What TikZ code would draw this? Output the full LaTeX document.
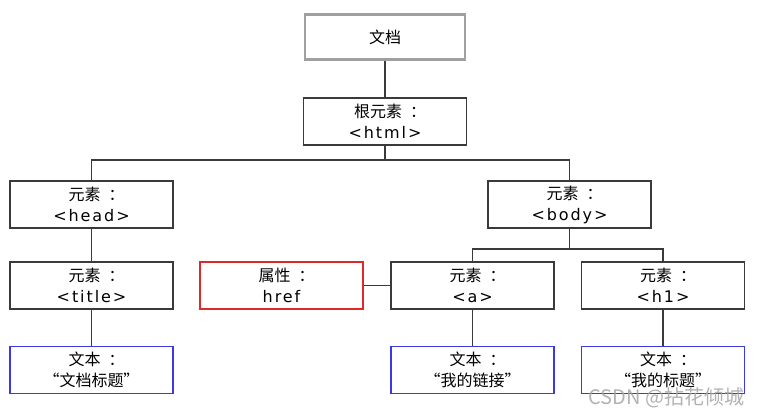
\documentclass[tikz,border=0pt]{standalone}
\usepackage{fontspec}
\setmainfont[LetterSpace=12]{DejaVu Sans}
\newfontfamily\cjk{Noto Sans CJK SC}
\newcommand\zc{\hspace{0.5em}\makebox[0.35em][l]{：}}
\definecolor{boxline}{HTML}{3A3A3A}
\definecolor{docline}{HTML}{A0A0A0}
\definecolor{attrred}{HTML}{E02828}
\definecolor{textblue}{HTML}{3A3AE0}
\begin{document}
\begin{tikzpicture}[x=1pt,y=-1pt,
  box/.style={draw=boxline, line width=1.6pt, minimum width=163pt, minimum height=47pt,
    inner sep=0pt, align=center, font=\fontsize{16}{21}\selectfont, fill=white},
  docbox/.style={box, draw=docline, line width=2.6pt, minimum width=160pt, minimum height=45pt},
  attrbox/.style={box, draw=attrred},
  textbox/.style={box, draw=textblue},
  link/.style={draw=boxline, line width=1.6pt}]
\useasboundingbox (0,0) rectangle (777,418);
\fill[white] (0,0) rectangle (777,418);
\node[docbox] (doc) at (385,37) {\cjk 文档};
\node[box] (root) at (385,121.5) {{\cjk 根元素\zc}\\<html>};
\node[box] (head) at (91.5,204.5) {{\cjk 元素\zc}\\<head>};
\node[box] (body) at (569.5,204.5) {{\cjk 元素\zc}\\<body>};
\node[box] (title) at (91.5,285.5) {{\cjk 元素\zc}\\<title>};
\node[attrbox] (href) at (281.5,285.5) {{\cjk 属性\zc}\\href};
\node[box] (a) at (472.5,285.5) {{\cjk 元素\zc}\\<a>};
\node[box] (h1) at (663,285.5) {{\cjk 元素\zc}\\<h1>};
\node[textbox] (t1) at (91.5,370) {{\cjk 文本\zc}\\{\cjk “文档标题”}};
\node[textbox] (t2) at (472.5,370) {{\cjk 文本\zc}\\{\cjk “我的链接”}};
\node[textbox] (t3) at (663,370) {{\cjk 文本\zc}\\{\cjk “我的标题”}};
\coordinate (j1) at (385,160);
\coordinate (j2) at (569.5,249);
\draw[link] (doc.south) -- (root.north);
\draw[link] (root.south) -- (j1);
\draw[link] (head.north) |- (j1) -| (body.north);
\draw[link] (body.south) -- (j2);
\draw[link] (a.north) |- (j2) -| (h1.north);
\draw[link] (head.south) -- (title.north);
\draw[link] (title.south) -- (t1.north);
\draw[link] (href.east) -- (a.west);
\draw[link] (a.south) -- (t2.north);
\draw[link] (h1.south) -- (t3.north);
\node[text=gray!70, opacity=0.85, font=\cjk\fontsize{20}{22}\selectfont, anchor=east] (wm) at (748,398) {CSDN @拈花倾城};
\end{tikzpicture}
\end{document}
